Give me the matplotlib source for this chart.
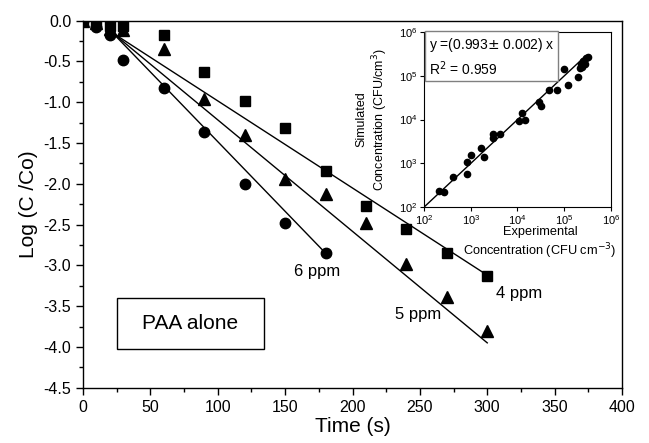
import matplotlib
matplotlib.use("Agg")
import matplotlib.pyplot as plt
import numpy as np
from matplotlib.ticker import MultipleLocator, LogLocator, NullLocator

plt.rcParams['font.family'] = ['Liberation Sans', 'DejaVu Sans']

# ---- main data ----
t_6ppm = [0, 10, 20, 30, 60, 90, 120, 150, 180]
y_6ppm = [0.0, -0.08, -0.18, -0.48, -0.82, -1.37, -2.00, -2.48, -2.85]

t_5ppm = [0, 10, 20, 30, 60, 90, 120, 150, 180, 210, 240, 270, 300]
y_5ppm = [0.0, -0.03, -0.10, -0.12, -0.35, -0.96, -1.40, -1.94, -2.12, -2.48, -2.98, -3.39, -3.80]

t_4ppm = [0, 10, 20, 30, 60, 90, 120, 150, 180, 210, 240, 270, 300]
y_4ppm = [0.0, -0.02, -0.06, -0.06, -0.18, -0.63, -0.98, -1.31, -1.84, -2.27, -2.56, -2.85, -3.13]

# fitted lines (start, end)
fit_t_6 = [22, 180]
fit_y_6 = [-0.15, -2.85]
fit_t_5 = [22, 300]
fit_y_5 = [-0.15, -3.95]
fit_t_4 = [22, 300]
fit_y_4 = [-0.15, -3.12]

# ---- inset data (log10 values) ----
log_exp = [2.32, 2.43, 2.62, 2.92, 2.92, 3.00, 3.21, 3.29, 3.47, 3.47, 3.63,
           4.03, 4.16, 4.10, 4.46, 4.50, 4.67, 4.84, 5.00, 5.09, 5.29,
           5.33, 5.36, 5.41, 5.46, 5.50, 5.44, 5.38]
log_sim = [2.37, 2.34, 2.69, 2.75, 3.02, 3.19, 3.35, 3.15, 3.68, 3.57, 3.67,
           3.97, 4.00, 4.16, 4.39, 4.32, 4.67, 4.67, 5.15, 4.79, 4.98,
           5.18, 5.28, 5.34, 5.40, 5.44, 5.26, 5.21]
inset_fit_x = [1e2, 2.8e5]
slope = 0.993

fig = plt.figure(figsize=(6.49, 4.43), dpi=100)
ax = fig.add_axes([0.1279, 0.1248, 0.8305, 0.8285])

ms = 7.5
ax.plot(t_4ppm, y_4ppm, 's', color='black', ms=ms)
ax.plot(t_5ppm, y_5ppm, '^', color='black', ms=ms + 1)
ax.plot(t_6ppm, y_6ppm, 'o', color='black', ms=ms)
for ft, fy in [(fit_t_4, fit_y_4), (fit_t_5, fit_y_5), (fit_t_6, fit_y_6)]:
    ax.plot(ft, fy, '-', color='black', lw=1.0)

ax.set_xlim(0, 400)
ax.set_ylim(-4.5, 0.0)
ax.xaxis.set_major_locator(MultipleLocator(50))
ax.xaxis.set_minor_locator(MultipleLocator(25))
ax.yaxis.set_major_locator(MultipleLocator(0.5))
ax.yaxis.set_minor_locator(MultipleLocator(0.25))
ax.yaxis.set_major_formatter(matplotlib.ticker.FormatStrFormatter('%.1f'))
ax.tick_params(which='both', direction='out', top=False, right=False, labelsize=11.5)
ax.tick_params(which='major', length=5, width=1)
ax.tick_params(which='minor', length=3, width=1)
for s in ax.spines.values():
    s.set_linewidth(1.0)
ax.set_xlabel('Time (s)', fontsize=15, labelpad=2)
ax.set_ylabel('Log (C /Co)', fontsize=15, labelpad=4)

ax.text(174, -3.08, '6 ppm', ha='center', va='center', fontsize=12)
ax.text(249, -3.60, '5 ppm', ha='center', va='center', fontsize=12)
ax.text(324, -3.35, '4 ppm', ha='center', va='center', fontsize=12)
ax.text(79.5, -3.715, 'PAA alone', ha='center', va='center', fontsize=15)
ax.add_patch(plt.Rectangle((25, -4.03), 109, 0.63, fill=False, ec='black', lw=1.0))

# ---- inset ----
ins = fig.add_axes([0.6533, 0.5327, 0.2881, 0.395])
ins.set_xscale('log')
ins.set_yscale('log')
ins.plot(10 ** np.array(log_exp), 10 ** np.array(log_sim), 'o', color='black', ms=4.5)
fx = np.array(inset_fit_x)
ins.plot(fx, slope * fx, '-', color='black', lw=1.0)
ins.set_xlim(1e2, 1e6)
ins.set_ylim(1e2, 1e6)
ins.xaxis.set_major_locator(LogLocator(base=10, numticks=10))
ins.yaxis.set_major_locator(LogLocator(base=10, numticks=10))
ins.xaxis.set_minor_locator(NullLocator())
ins.yaxis.set_minor_locator(NullLocator())
ins.tick_params(which='both', direction='out', labelsize=8, length=3, pad=1.5)
ins.set_xlabel('Experimental\nConcentration (CFU cm$^{-3}$)', fontsize=9.2, linespacing=1.25)
ins.xaxis.set_label_coords(0.62, -0.11, transform=ins.transAxes)
ins.xaxis.label.set_va('top')
ins.set_ylabel('Simulated\nConcentration (CFU/cm$^{3}$)', fontsize=9, linespacing=1.25)
ins.yaxis.set_label_coords(-0.18, 0.5, transform=ins.transAxes)
ins.text(0.025, 0.975, 'y =(0.993$\\pm$ 0.002) x\nR$^2$ = 0.959', transform=ins.transAxes,
         ha='left', va='top', fontsize=10, linespacing=1.3,
         bbox=dict(boxstyle='square,pad=0.25', fc='white', ec='gray', lw=1.0))

fig.savefig('out.png', dpi=100)
